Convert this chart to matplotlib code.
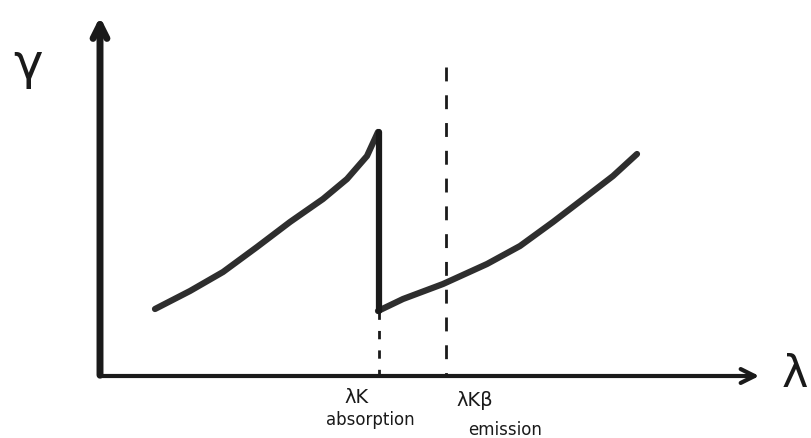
import matplotlib.pyplot as plt

# hand sketch: absorption curve with K edge (x, y in sketch units)
left_x = [55, 90, 123, 157, 190, 223, 247, 267, 278]
left_y = [67, 85, 104, 129, 154, 177, 197, 220, 244]
right_x = [278, 303, 343, 387, 420, 453, 487, 513, 537]
right_y = [65, 77, 92, 112, 130, 154, 180, 200, 222]
edge_x = 279
kb_x = 346
kb_top = 309
x_end = 662
y_end = 362

ink = '#1a1a1a'

fig = plt.figure(figsize=(8.12, 4.39), dpi=100)
ax = fig.add_axes([0, 0, 1, 1])
ax.set_xlim(-100, 712)
ax.set_ylim(-62, 377)
ax.axis('off')

# axes with arrows
ax.annotate('', xy=(0, y_end), xytext=(0, -2),
            arrowprops=dict(arrowstyle='->', lw=5, color=ink, mutation_scale=25))
ax.annotate('', xy=(x_end, 0), xytext=(-2, 0),
            arrowprops=dict(arrowstyle='->', lw=3, color=ink, mutation_scale=25))

# curve and the edge jump
ax.plot(left_x, left_y, color='#2e2e2e', lw=4.5, solid_capstyle='round',
        solid_joinstyle='round')
ax.plot(right_x, right_y, color='#2e2e2e', lw=4.5, solid_capstyle='round',
        solid_joinstyle='round')
ax.plot([edge_x, edge_x], [left_y[-1], right_y[0]], color=ink, lw=4.5,
        solid_capstyle='round')

# dashed guides
ax.plot([edge_x, edge_x], [right_y[0], 0], color=ink, lw=2, ls=(0, (3, 4)))
ax.plot([kb_x, kb_x], [kb_top, 0], color=ink, lw=2, ls=(0, (5, 5)))

# labels
ax.text(-72, 312, 'γ', fontsize=36, color=ink, ha='center', va='center')
ax.text(708, 2, 'λ', fontsize=32, color=ink, ha='right', va='center')
ax.text(244, -21, 'λK', fontsize=14, color=ink, ha='left', va='center')
ax.text(226, -43, 'absorption', fontsize=12, color=ink, ha='left', va='center')
ax.text(356, -24, 'λKβ', fontsize=14, color=ink, ha='left', va='center')
ax.text(368, -53, 'emission', fontsize=12, color=ink, ha='left', va='center')

fig.savefig('out.png', dpi=100)
